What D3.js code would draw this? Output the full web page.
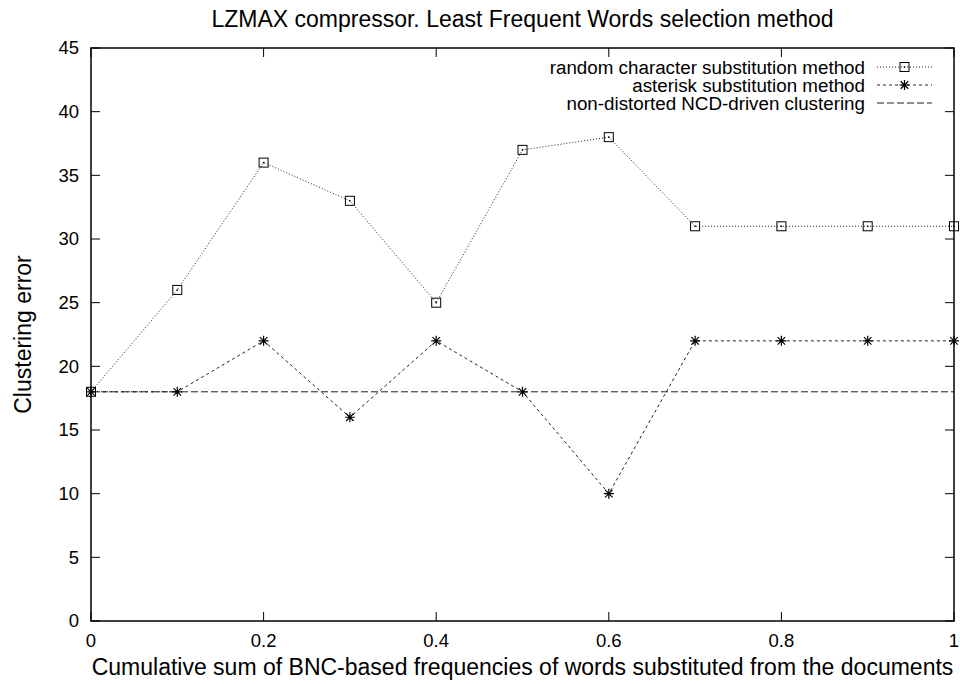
<!DOCTYPE html>
<html>
<head>
<meta charset="utf-8">
<script src="https://cdn.jsdelivr.net/npm/d3@7"></script>
<style>
body { margin: 0; background: #fff; }
svg { display: block; font-family: "Liberation Sans", Arial, Helvetica, sans-serif; }
</style>
</head>
<body>
<svg id="chart" width="960" height="684"></svg>
<script>
const xValues = [0, 0.1, 0.2, 0.3, 0.4, 0.5, 0.6, 0.7, 0.8, 0.9, 1.0];
const randomChar = [18, 26, 36, 33, 25, 37, 38, 31, 31, 31, 31];
const asterisk = [18, 18, 22, 16, 22, 18, 10, 22, 22, 22, 22];
const baseline = 18;
const xTicks = [0, 0.2, 0.4, 0.6, 0.8, 1];
const yTicks = [0, 5, 10, 15, 20, 25, 30, 35, 40, 45];
const legendLabels = ["random character substitution method", "asterisk substitution method", "non-distorted NCD-driven clustering"];

const svg = d3.select("#chart");
const m = {left: 91, right: 954, top: 48, bottom: 621};
const x = d3.scaleLinear().domain([0, 1]).range([m.left, m.right]);
const y = d3.scaleLinear().domain([0, 45]).range([m.bottom, m.top]);
const tickFs = 18.5, legFs = 18.8, labFs = 23;

// ticks (inward, mirrored)
const tickLen = 9;
const g = svg.append("g").attr("stroke", "#000").attr("stroke-width", 1);
yTicks.forEach(t => {
  g.append("line").attr("x1", m.left).attr("x2", m.left + tickLen).attr("y1", y(t)).attr("y2", y(t));
  g.append("line").attr("x1", m.right).attr("x2", m.right - tickLen).attr("y1", y(t)).attr("y2", y(t));
});
xTicks.forEach(t => {
  g.append("line").attr("x1", x(t)).attr("x2", x(t)).attr("y1", m.bottom).attr("y2", m.bottom - tickLen);
  g.append("line").attr("x1", x(t)).attr("x2", x(t)).attr("y1", m.top).attr("y2", m.top + tickLen);
});

// tick labels
svg.append("g").selectAll("text").data(yTicks).join("text")
  .attr("x", m.left - 12).attr("y", d => y(d)).attr("dy", "0.35em")
  .attr("text-anchor", "end").attr("font-size", tickFs).text(d => d);
svg.append("g").selectAll("text").data(xTicks).join("text")
  .attr("x", d => x(d)).attr("y", 647)
  .attr("text-anchor", "middle").attr("font-size", tickFs).text(d => d);

// baseline
svg.append("line").attr("x1", x(0)).attr("x2", x(1)).attr("y1", y(baseline)).attr("y2", y(baseline))
  .attr("stroke", "#222").attr("stroke-width", 1).attr("stroke-dasharray", "7,3");

const line = d3.line().x((d, i) => x(xValues[i])).y(d => y(d));
svg.append("path").datum(randomChar).attr("d", line).attr("fill", "none")
  .attr("stroke", "#222").attr("stroke-width", 1).attr("stroke-dasharray", "1,2");
svg.append("path").datum(asterisk).attr("d", line).attr("fill", "none")
  .attr("stroke", "#222").attr("stroke-width", 1).attr("stroke-dasharray", "3,3");

function square(sel, cx, cy) {
  sel.append("rect").attr("x", cx - 4.5).attr("y", cy - 4.5).attr("width", 9).attr("height", 9)
    .attr("fill", "none").attr("stroke", "#000").attr("stroke-width", 1);
  sel.append("rect").attr("x", cx - 0.75).attr("y", cy - 0.75).attr("width", 1.5).attr("height", 1.5).attr("fill", "#000");
}
function star(sel, cx, cy) {
  const r = 5;
  const p = `M${cx - r},${cy}H${cx + r}M${cx},${cy - r}V${cy + r}M${cx - r * 0.75},${cy - r * 0.75}L${cx + r * 0.75},${cy + r * 0.75}M${cx - r * 0.75},${cy + r * 0.75}L${cx + r * 0.75},${cy - r * 0.75}`;
  sel.append("path").attr("d", p).attr("stroke", "#000").attr("stroke-width", 1.2).attr("fill", "none");
}
const mk = svg.append("g");
randomChar.forEach((v, i) => square(mk, x(xValues[i]), y(v)));
asterisk.forEach((v, i) => star(mk, x(xValues[i]), y(v)));

// frame
svg.append("rect").attr("x", m.left).attr("y", m.top).attr("width", m.right - m.left).attr("height", m.bottom - m.top)
  .attr("fill", "none").attr("stroke", "#000").attr("stroke-width", 1.5);

// legend
const lg = svg.append("g");
const rows = [67, 85, 103];
const dashes = ["1,2", "3,3", "7,3"];
legendLabels.forEach((t, i) => {
  lg.append("text").attr("x", 865).attr("y", rows[i]).attr("dy", "0.35em")
    .attr("text-anchor", "end").attr("font-size", legFs).text(t);
  lg.append("line").attr("x1", 877).attr("x2", 932).attr("y1", rows[i]).attr("y2", rows[i])
    .attr("stroke", "#222").attr("stroke-width", 1).attr("stroke-dasharray", dashes[i]);
});
square(lg, 904.5, rows[0]);
star(lg, 904.5, rows[1]);

// title and axis labels
const cx = (m.left + m.right) / 2;
svg.append("text").attr("x", cx).attr("y", 27).attr("text-anchor", "middle")
  .attr("font-size", labFs).text("LZMAX compressor. Least Frequent Words selection method");
svg.append("text").attr("x", cx).attr("y", 675).attr("text-anchor", "middle")
  .attr("font-size", labFs).text("Cumulative sum of BNC-based frequencies of words substituted from the documents");
svg.append("text").attr("transform", `translate(31,${(m.top + m.bottom) / 2}) rotate(-90)`)
  .attr("text-anchor", "middle")
  .attr("font-size", labFs).text("Clustering error");
</script>
</body>
</html>
